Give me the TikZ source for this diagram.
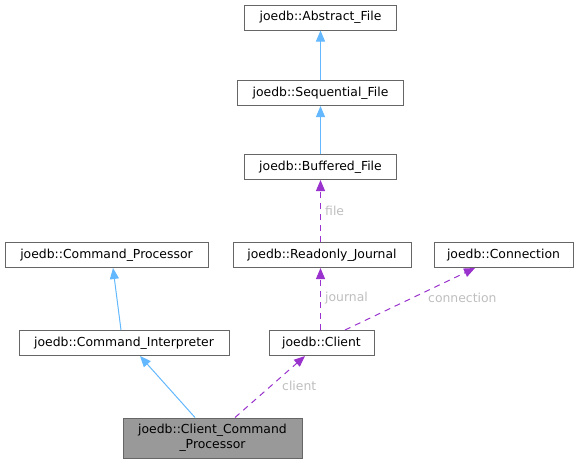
\documentclass[tikz,border=0pt]{standalone}
\usepackage{fontspec}
\setmainfont{DejaVu Sans}
\usetikzlibrary{arrows.meta,calc}
\definecolor{edgeblue}{HTML}{63B8FF}
\definecolor{edgepurple}{HTML}{9A32CD}
\definecolor{boxborder}{HTML}{666666}
\definecolor{boxfill}{HTML}{999999}
\definecolor{labelgray}{HTML}{BEBEBE}
\tikzset{
  cls/.style={draw=boxborder, line width=1pt, fill=white, inner sep=0pt, minimum height=25pt,
    font=\fontsize{12.4pt}{15pt}\selectfont, text=black, align=center},
  inherit/.style={draw=edgeblue, line width=1pt, -{Triangle[length=11pt,width=9pt]}},
  usage/.style={draw=edgepurple, line width=1pt, dash pattern=on 6pt off 5pt, -{Triangle[length=11pt,width=9pt]}},
  elabel/.style={text=labelgray, font=\fontsize{12.4pt}{15pt}\selectfont, anchor=west, inner sep=0pt},
}
\begin{document}
\begin{tikzpicture}[x=1pt,y=-1pt]
\useasboundingbox (0,0) rectangle (579,464);
\node[cls, minimum width=152pt] (abs) at (320.5,17.5) {joedb::Abstract\_File};
\node[cls, minimum width=166pt] (seq) at (320.5,93) {joedb::Sequential\_File};
\node[cls, minimum width=152pt] (buf) at (320.5,167) {joedb::Buffered\_File};
\node[cls, minimum width=178pt] (roj) at (322,255) {joedb::Readonly\_Journal};
\node[cls, minimum width=139pt] (conn) at (503.5,255) {joedb::Connection};
\node[cls, minimum width=203pt] (cp) at (106.5,255) {joedb::Command\_Processor};
\node[cls, minimum width=210pt] (ci) at (124,343) {joedb::Command\_Interpreter};
\node[cls, minimum width=105pt] (cl) at (321.5,343) {joedb::Client};
\node[cls, minimum width=179pt, minimum height=40pt, fill=boxfill] (ccp) at (212.5,438) {joedb::Client\_Command\\\_Processor};

\draw[inherit] (seq.north) -- (abs.south);
\draw[inherit] (buf.north) -- (seq.south);
\draw[usage] (roj.north -| buf.south) -- (buf.south);
\draw[usage] (cl.north -| buf.south) -- (roj.south -| buf.south);
\draw[usage] ($(cl.north)+(23.5,0)$) -- ($(conn.south)+(-28.5,0)$);
\draw[inherit] ($(ci.north)+(-3,0)$) -- ($(cp.south)+(6.5,0)$);
\draw[inherit] ($(ccp.north)+(-17.5,0)$) -- ($(ci.south)+(16,0)$);
\draw[usage] ($(ccp.north)+(22.5,0)$) -- ($(cl.south)+(-16.5,0)$);

\node[elabel] (lfile) at (325,211) {file};
\node[elabel] (ljournal) at (325,298) {journal};
\node[elabel] (lconn) at (428,298) {connection};
\node[elabel] (lclient) at (282,386) {client};
\end{tikzpicture}
\end{document}
